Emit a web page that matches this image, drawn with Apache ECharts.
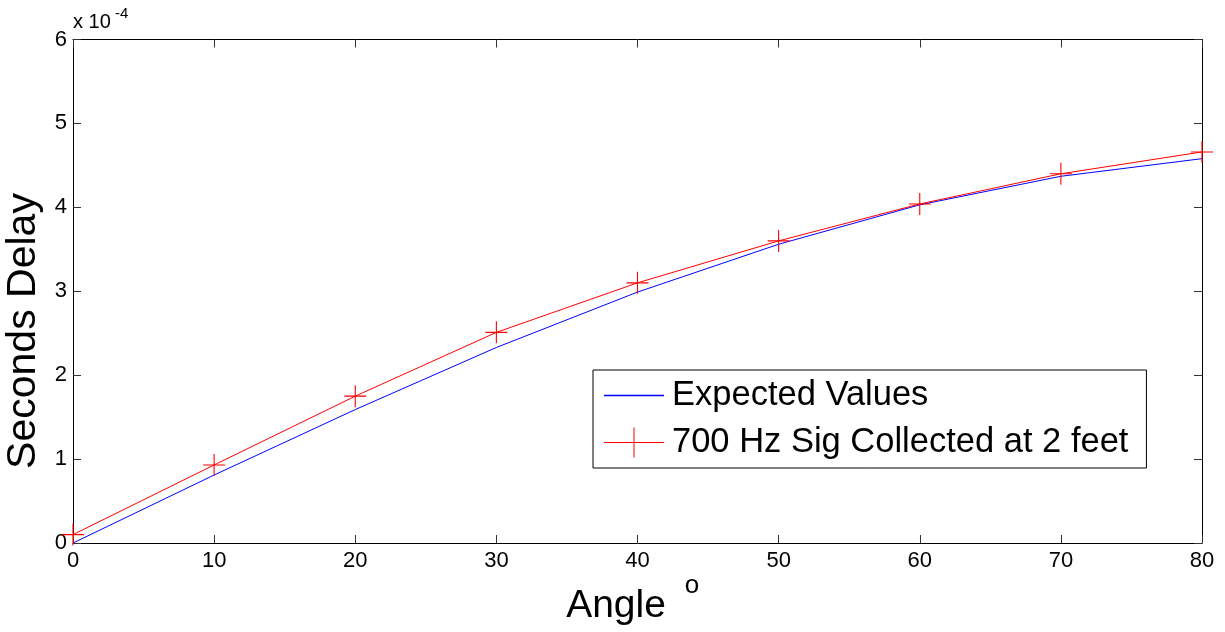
<!DOCTYPE html>
<html>
<head>
<meta charset="utf-8">
<script src="https://cdn.jsdelivr.net/npm/echarts@6/dist/echarts.min.js"></script>
<style>html,body{margin:0;padding:0;background:#fff;}#c{width:1225px;height:632px;}</style>
</head>
<body>
<div id="c"></div>
<script>
const angles = [0, 10, 20, 30, 40, 50, 60, 70, 80];
const expectedValues = [0, 0.81, 1.59, 2.33, 2.99, 3.56, 4.03, 4.37, 4.58];
const measuredValues = [0.10, 0.93, 1.75, 2.51, 3.10, 3.60, 4.04, 4.40, 4.66];
const xTicks = [0, 80, 10];
const yTicks = [0, 6, 1];
const seriesNames = ['Expected Values', '700 Hz Sig Collected at 2 feet'];

const FONT = '"Liberation Sans", Arial, sans-serif';
const plus = 'path://M0,9.5H9.5V0H10.5V9.5H20V10.5H10.5V20H9.5V10.5H0Z';
const chart = echarts.init(document.getElementById('c'));
function axisCommon() {
  return {
    axisLine: {show: true, onZero: false, lineStyle: {color: '#000', width: 1}},
    axisTick: {show: true, inside: true, length: 8, lineStyle: {color: '#333'}},
    splitLine: {show: false}
  };
}
chart.setOption({
  animation: false,
  backgroundColor: '#fff',
  grid: {left: 73, right: 23, top: 39.5, bottom: 89, containLabel: false},
  xAxis: [
    Object.assign({type: 'value', min: xTicks[0], max: xTicks[1], interval: xTicks[2], position: 'bottom',
      axisLabel: {color: '#000', fontSize: 22, fontFamily: FONT, margin: 7}}, axisCommon()),
    Object.assign({type: 'value', min: xTicks[0], max: xTicks[1], interval: xTicks[2], position: 'top',
      axisLabel: {show: false}}, axisCommon())
  ],
  yAxis: [
    Object.assign({type: 'value', min: yTicks[0], max: yTicks[1], interval: yTicks[2], position: 'left',
      axisLabel: {color: '#000', fontSize: 22, fontFamily: FONT, margin: 6}}, axisCommon()),
    Object.assign({type: 'value', min: yTicks[0], max: yTicks[1], interval: yTicks[2], position: 'right',
      axisLabel: {show: false}}, axisCommon())
  ],
  legend: {
    left: 593, top: 370, orient: 'vertical',
    backgroundColor: '#fff',
    borderColor: '#000', borderWidth: 1, borderRadius: 0,
    padding: [8, 18, 8, 11],
    itemGap: 12, itemWidth: 60, itemHeight: 30,
    textStyle: {color: '#000', fontSize: 34.5, fontFamily: FONT, padding: [0, 0, 0, 3]},
    data: [
      {name: seriesNames[0], icon: 'path://M0,29.3H60V30.7H0Z', itemStyle: {color: '#0000ff', borderColor: '#0000ff', borderWidth: 0}, lineStyle: {color: '#0000ff', width: 1}},
      {name: seriesNames[1], icon: 'path://M0,14.5H29.5V0H30.5V14.5H60V15.5H30.5V30H29.5V15.5H0Z', itemStyle: {color: '#ff0000', borderWidth: 0}, lineStyle: {color: '#ff0000', width: 1}}
    ]
  },
  series: [
    {name: seriesNames[0], type: 'line', showSymbol: false, symbol: 'none',
      data: angles.map((a, i) => [a, expectedValues[i]]),
      lineStyle: {color: '#0000ff', width: 1}, itemStyle: {color: '#0000ff'}},
    {name: seriesNames[1], type: 'line', symbol: plus, symbolSize: 22,
      data: angles.map((a, i) => [a, measuredValues[i]]),
      lineStyle: {color: '#ff0000', width: 1}, itemStyle: {color: '#ff0000'}}
  ],
  graphic: [
    {type: 'text', left: 73, top: 12, style: {text: 'x 10', fontSize: 20, fontFamily: FONT, fill: '#000'}},
    {type: 'text', left: 115, top: 6, style: {text: '-4', fontSize: 15, fontFamily: FONT, fill: '#000'}},
    {type: 'text', x: 24, y: 331, rotation: Math.PI / 2, style: {text: 'Seconds Delay', fontSize: 41, fontFamily: FONT, fill: '#000', align: 'center', verticalAlign: 'middle'}},
    {type: 'text', x: 616, y: 606, style: {text: 'Angle', fontSize: 39, fontFamily: FONT, fill: '#000', align: 'center', verticalAlign: 'middle'}},
    {type: 'text', x: 692, y: 586, style: {text: 'o', fontSize: 26, fontFamily: FONT, fill: '#000', align: 'center', verticalAlign: 'middle'}}
  ]
});
</script>
</body>
</html>
